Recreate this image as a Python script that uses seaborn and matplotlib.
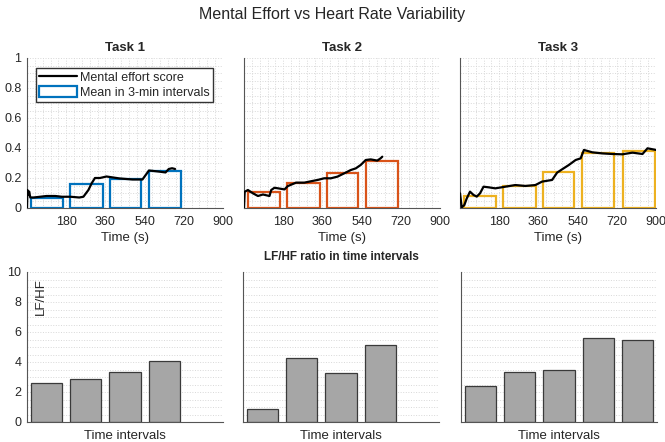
import numpy as np
import pandas as pd
import matplotlib
matplotlib.use("Agg")
import matplotlib.pyplot as plt
from matplotlib.lines import Line2D
from matplotlib.patches import Patch
from matplotlib.ticker import MultipleLocator
import seaborn as sns

sns.set_style("white")
plt.rcParams['font.family'] = ['Liberation Sans', 'DejaVu Sans']

# mental effort score (time in s, score)
t1_time = [0, 2, 6, 10, 15, 30, 60, 90, 130, 160, 200, 240, 259, 282, 297, 312, 335, 365, 425, 485, 530, 545, 560, 605, 636, 651, 666, 680]
t1_score = [0.0, 0.12, 0.09, 0.11, 0.07, 0.07, 0.075, 0.08, 0.08, 0.075, 0.075, 0.07, 0.075, 0.12, 0.165, 0.2, 0.2, 0.21, 0.197, 0.19, 0.19, 0.22, 0.25, 0.243, 0.237, 0.26, 0.265, 0.26]

t2_time = [0, 3, 18, 41, 64, 87, 117, 125, 140, 186, 201, 239, 277, 300, 338, 368, 399, 429, 460, 490, 513, 536, 559, 582, 612, 627, 635]
t2_score = [0.0, 0.108, 0.12, 0.098, 0.08, 0.09, 0.08, 0.12, 0.135, 0.124, 0.146, 0.169, 0.169, 0.176, 0.187, 0.198, 0.198, 0.209, 0.231, 0.253, 0.264, 0.287, 0.32, 0.324, 0.316, 0.331, 0.342]

t3_time = [0, 8, 20, 31, 46, 62, 77, 92, 108, 131, 162, 208, 254, 300, 346, 377, 423, 446, 469, 500, 531, 554, 569, 608, 654, 700, 746, 792, 838, 861, 900]
t3_score = [0.098, 0.004, 0.02, 0.064, 0.109, 0.087, 0.076, 0.098, 0.142, 0.138, 0.131, 0.142, 0.153, 0.147, 0.153, 0.176, 0.187, 0.236, 0.258, 0.287, 0.32, 0.331, 0.387, 0.371, 0.364, 0.36, 0.358, 0.369, 0.36, 0.398, 0.387]

# 3-min interval means (start, end, mean)
int_start = [17, 198, 380, 562, 749]
int_end = [165, 347, 525, 709, 897]
t1_means = [0.07, 0.16, 0.195, 0.245]
t2_means = [0.104, 0.164, 0.231, 0.315]
t3_means = [0.08, 0.147, 0.238, 0.369, 0.38]

# LF/HF ratio per interval
t1_lfhf = [2.6, 2.84, 3.33, 4.09]
t2_lfhf = [0.87, 4.29, 3.24, 5.13]
t3_lfhf = [2.42, 3.36, 3.49, 5.58, 5.44]

tasks = ['Task 1', 'Task 2', 'Task 3']
colors = ['#0072BD', '#D95319', '#EDB120']
times = [t1_time, t2_time, t3_time]
scores = [t1_score, t2_score, t3_score]
means = [t1_means, t2_means, t3_means]
lfhf = [t1_lfhf, t2_lfhf, t3_lfhf]

axcol = '#262626'
fig = plt.figure(figsize=(6.65, 4.42), dpi=100)
lefts = [27, 244, 460]
blefts = [27, 243, 461]
W, H = 665, 442

for i in range(3):
    ax = fig.add_axes([lefts[i] / W, 1 - 208 / H, 196 / W, 150 / H])
    n = len(means[i])
    st = np.array(int_start[:n])
    en = np.array(int_end[:n])
    ax.bar(st, means[i], width=en - st, align='edge', facecolor='none',
           edgecolor=colors[i], linewidth=1.6, zorder=2)
    df = pd.DataFrame({'time': times[i], 'score': scores[i]})
    sns.lineplot(data=df, x='time', y='score', ax=ax, color='black',
                 linewidth=1.6, sort=False, estimator=None, zorder=3)
    ax.set_xlim(0, 900)
    ax.set_ylim(0, 1)
    ax.set_xticks([180, 360, 540, 720, 900])
    ax.set_yticks([0, 0.2, 0.4, 0.6, 0.8, 1])
    ax.set_yticklabels(['0', '0.2', '0.4', '0.6', '0.8', '1'])
    ax.xaxis.set_minor_locator(MultipleLocator(36))
    ax.yaxis.set_minor_locator(MultipleLocator(0.05))
    ax.grid(True, which='both', linestyle=':', color='#d8d8d8', linewidth=0.7, zorder=0)
    ax.set_axisbelow(True)
    ax.set_title(tasks[i], fontsize=9.5, fontweight='bold', pad=5)
    ax.set_xlabel('Time (s)', fontsize=9.5, color=axcol, labelpad=3)
    ax.set_ylabel('')
    ax.tick_params(axis='x', which='major', direction='in', length=3,
                   labelsize=9, colors=axcol, pad=6)
    ax.tick_params(axis='y', which='major', direction='in', length=3,
                   labelsize=9, colors=axcol, pad=4)
    ax.tick_params(axis='both', which='minor', length=0)
    if i > 0:
        ax.set_yticklabels([])
    for s in ['top', 'right']:
        ax.spines[s].set_visible(False)
    for s in ['left', 'bottom']:
        ax.spines[s].set_color('#555555')
        ax.spines[s].set_linewidth(0.8)
    if i == 0:
        handles = [Line2D([0], [0], color='black', linewidth=1.6),
                   Patch(facecolor='white', edgecolor=colors[0], linewidth=1.6)]
        ax.legend(handles, ['Mental effort score', 'Mean in 3-min intervals'],
                  loc='upper left', bbox_to_anchor=(0.046, 0.935), borderaxespad=0,
                  fontsize=9, frameon=True, fancybox=False, edgecolor='#333333',
                  handlelength=3.0, handleheight=1.0, labelspacing=0.15,
                  handletextpad=0.3, borderpad=0.25, framealpha=1)

    # bottom row
    bx = fig.add_axes([blefts[i] / W, 1 - 422 / H, 196 / W, 150 / H])
    bdf = pd.DataFrame({'interval': [str(k + 1) for k in range(n)], 'lfhf': lfhf[i]})
    sns.barplot(data=bdf, x='interval', y='lfhf', ax=bx, color='#a6a6a6',
                saturation=1, width=0.8, edgecolor='#3a3a3a', linewidth=0.9, zorder=2)
    bx.set_xlim(-0.5, 4.5)
    bx.set_ylim(0, 10)
    bx.set_yticks([0, 2, 4, 6, 8, 10])
    bx.yaxis.set_minor_locator(MultipleLocator(0.5))
    bx.grid(True, axis='y', which='both', linestyle=':', color='#d8d8d8', linewidth=0.7)
    bx.set_axisbelow(True)
    bx.set_xticks([])
    bx.set_xlabel('Time intervals', fontsize=9.5, color=axcol, labelpad=6)
    bx.set_ylabel('')
    bx.tick_params(axis='y', which='major', direction='in', length=3,
                   labelsize=9, colors=axcol, pad=4)
    bx.tick_params(axis='y', which='minor', length=0)
    if i > 0:
        bx.set_yticklabels([])
    for s in ['top', 'right']:
        bx.spines[s].set_visible(False)
    for s in ['left', 'bottom']:
        bx.spines[s].set_color('#555555')
        bx.spines[s].set_linewidth(0.8)
    if i == 0:
        bx.text(0.07, 0.96, 'LF/HF', rotation=90, transform=bx.transAxes,
                ha='center', va='top', fontsize=9.5, color=axcol)
    if i == 1:
        bx.set_title('LF/HF ratio in time intervals', fontsize=8.5,
                     fontweight='bold', pad=9)

fig.suptitle('Mental Effort vs Heart Rate Variability', fontsize=11.5, y=0.985)
fig.savefig('out.png', dpi=100)
